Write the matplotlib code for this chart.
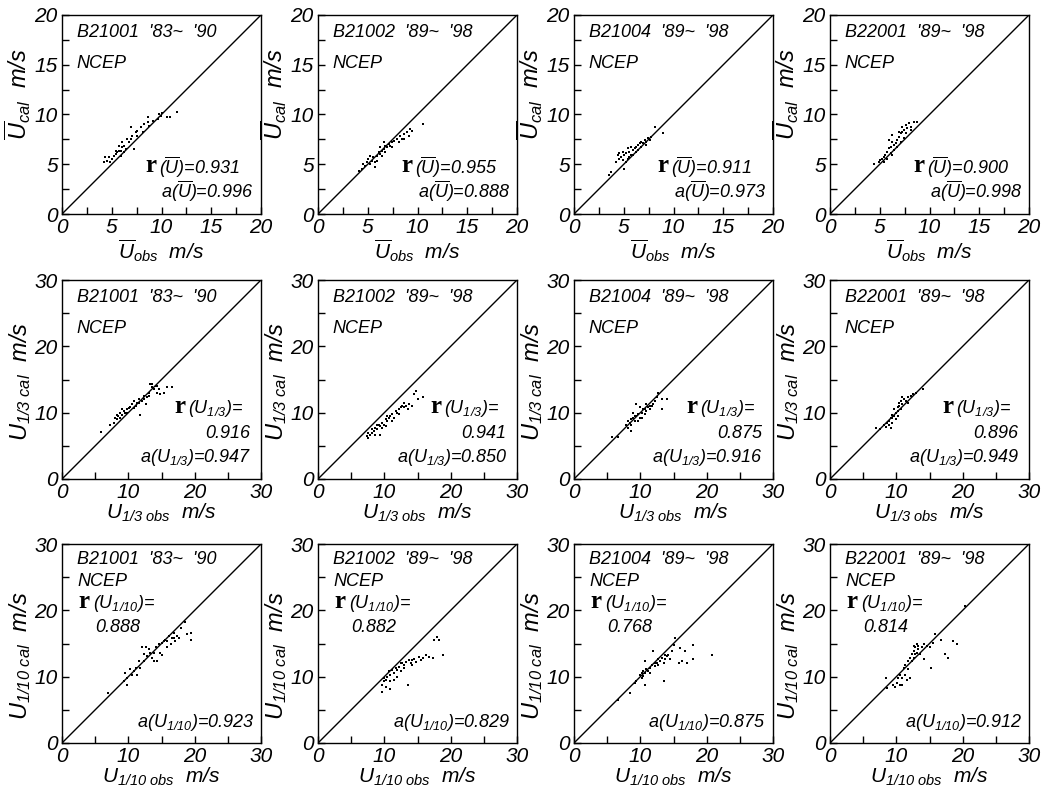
import matplotlib
matplotlib.use("Agg")
import matplotlib.pyplot as plt
from matplotlib.ticker import MultipleLocator

plt.rcParams['font.family'] = ['Liberation Sans', 'DejaVu Sans']
plt.rcParams['mathtext.fontset'] = 'custom'
plt.rcParams['mathtext.it'] = 'Liberation Sans:italic'
plt.rcParams['mathtext.rm'] = 'Liberation Sans:italic'
plt.rcParams['mathtext.sf'] = 'Liberation Sans:italic'

# station info
stations = ["B21001", "B21002", "B21004", "B22001"]
periods = ["'83~  '90", "'89~  '98", "'89~  '98", "'89~  '98"]

r_mean = ["0.931", "0.955", "0.911", "0.900"]
a_mean = ["0.996", "0.888", "0.973", "0.998"]
r_13 = ["0.916", "0.941", "0.875", "0.896"]
a_13 = ["0.947", "0.850", "0.916", "0.949"]
r_110 = ["0.888", "0.882", "0.768", "0.814"]
a_110 = ["0.923", "0.829", "0.875", "0.912"]

# mean wind speed (obs, cal)
mean_21001_obs = [4.2, 4.3, 4.7, 5.2, 4.8, 5.5, 5.7, 5.9, 6.0, 6.2, 6.4, 6.5, 6.7, 6.9, 7.0, 7.2, 7.4, 7.5, 7.9, 8.2,
                  8.6, 8.7, 9.1, 9.6, 9.9, 10.1, 10.6, 10.9, 11.6, 5.4, 5.0, 5.9, 6.2, 6.0, 5.7, 6.9, 7.5, 8.1, 9.7,
                  8.6, 4.5, 5.4]
mean_21001_cal = [5.2, 5.7, 5.7, 5.8, 5.2, 6.2, 6.8, 6.3, 7.2, 6.8, 6.5, 7.5, 7.2, 8.7, 7.8, 6.5, 8.2, 8.3, 8.7, 9.0,
                  9.7, 8.8, 9.3, 9.5, 9.8, 10.2, 9.7, 9.7, 10.3, 6.0, 5.5, 5.8, 6.2, 6.7, 6.3, 7.5, 7.8, 8.2, 10.0,
                  9.2, 5.3, 6.3]
mean_21002_obs = [4.1, 4.4, 4.7, 4.9, 5.0, 5.2, 5.4, 5.5, 5.7, 5.9, 6.1, 6.2, 6.4, 6.6, 6.6, 6.7, 6.9, 7.1, 7.2, 7.4,
                  7.6, 7.9, 8.2, 8.4, 8.6, 8.9, 9.2, 9.4, 10.6, 4.5, 5.2, 5.7, 6.2, 6.7, 7.4, 8.1, 8.6, 9.1, 5.9, 6.4]
mean_21002_cal = [4.3, 4.5, 4.8, 5.2, 5.5, 5.0, 5.3, 5.7, 4.7, 5.8, 6.2, 6.0, 6.3, 6.5, 7.2, 6.8, 6.7, 7.0, 6.8, 7.2,
                  7.3, 7.5, 7.8, 7.5, 8.0, 8.2, 8.5, 8.3, 9.0, 5.0, 5.8, 5.2, 6.7, 6.2, 6.7, 7.2, 7.5, 7.8, 5.3, 5.8]
mean_21004_obs = [3.5, 3.7, 4.2, 4.5, 4.7, 4.9, 5.0, 5.0, 5.2, 5.4, 5.5, 5.7, 5.9, 6.1, 6.2, 6.4, 6.6, 6.7, 6.9, 7.1,
                  7.2, 7.4, 7.6, 7.7, 8.1, 8.9, 4.5, 4.9, 5.4, 5.7, 5.9, 6.4, 6.7, 7.2, 6.2, 4.4, 5.2, 5.5]
mean_21004_cal = [3.9, 4.2, 5.2, 5.5, 5.7, 5.4, 5.9, 4.5, 6.1, 5.5, 6.2, 5.9, 6.4, 6.6, 6.7, 6.9, 7.1, 7.2, 7.1, 7.4,
                  7.2, 7.6, 7.4, 7.7, 8.7, 8.1, 6.1, 6.2, 6.6, 6.7, 5.9, 6.4, 6.7, 6.9, 6.2, 5.9, 5.2, 5.7]
mean_22001_obs = [4.4, 4.9, 5.0, 5.2, 5.4, 5.4, 5.5, 5.7, 5.9, 6.1, 6.1, 6.2, 6.2, 6.4, 6.6, 6.7, 6.9, 7.1, 7.2, 7.4,
                  7.6, 7.7, 7.9, 8.1, 8.4, 8.7, 5.9, 6.4, 6.7, 7.1, 7.4, 7.6, 5.7, 6.2, 8.1, 6.9, 7.2]
mean_22001_cal = [5.0, 5.2, 5.4, 5.5, 5.7, 5.2, 5.9, 6.2, 6.6, 6.1, 6.7, 7.9, 7.2, 6.9, 7.1, 7.4, 7.7, 8.1, 8.2, 8.4,
                  8.9, 8.6, 9.1, 8.7, 9.2, 9.2, 7.4, 6.4, 6.7, 7.2, 7.6, 8.1, 5.5, 5.9, 8.4, 8.2, 8.7]

# significant wind speed U1/3 (obs, cal)
u13_21001_obs = [5.9, 7.3, 7.8, 8.0, 8.3, 8.5, 8.8, 9.0, 9.3, 9.5, 9.8, 10.1, 10.6, 10.8, 11.1, 11.3, 11.6, 11.8, 12.1,
                 12.3, 12.6, 12.8, 13.1, 13.3, 13.6, 13.8, 14.1, 14.3, 14.6, 14.8, 15.4, 15.9, 16.6, 8.3, 9.0, 10.3,
                 11.6, 12.3, 13.6, 14.3, 8.8, 9.8, 10.8, 13.1]
u13_21001_cal = [7.1, 8.2, 8.5, 9.2, 9.0, 9.5, 10.0, 9.7, 10.2, 10.0, 10.5, 10.7, 11.3, 11.8, 11.0, 11.5, 12.0, 9.7,
                 11.8, 12.5, 11.3, 12.3, 13.0, 14.3, 13.8, 13.5, 14.0, 13.0, 13.5, 12.8, 13.0, 13.8, 13.9, 9.7, 10.5,
                 10.9, 11.5, 12.0, 14.3, 14.0, 9.2, 10.0, 10.7, 12.5]
u13_21002_obs = [7.4, 7.6, 7.9, 8.1, 8.4, 8.6, 8.9, 9.2, 9.4, 9.4, 9.7, 9.9, 10.2, 10.4, 10.7, 10.9, 11.2, 11.4, 11.7,
                 11.9, 12.2, 12.5, 12.7, 13.0, 13.2, 13.7, 14.2, 14.5, 14.7, 15.0, 15.8, 8.1, 8.9, 9.7, 10.4, 11.2,
                 12.2, 13.0, 13.5, 8.6, 7.6, 10.2]
u13_21002_cal = [6.5, 7.0, 6.7, 7.5, 7.2, 7.7, 7.5, 8.2, 6.7, 8.0, 8.5, 8.2, 9.0, 8.7, 9.2, 9.5, 9.8, 9.2, 10.3, 10.0,
                 10.5, 10.8, 11.0, 10.8, 11.0, 11.3, 11.0, 12.8, 13.3, 12.0, 12.3, 7.0, 8.2, 7.7, 9.5, 8.7, 9.8, 11.5,
                 10.5, 6.7, 6.2, 8.0]
u13_21004_obs = [5.8, 6.6, 7.9, 8.1, 8.4, 8.6, 8.6, 8.9, 9.2, 9.4, 9.4, 9.7, 9.9, 10.2, 10.4, 10.7, 10.9, 11.2, 11.4,
                 11.7, 11.9, 12.2, 12.5, 12.7, 13.2, 13.2, 14.0, 8.1, 8.9, 9.7, 10.2, 10.7, 11.4, 8.6, 9.2, 9.9, 10.9]
u13_21004_cal = [6.3, 6.3, 8.2, 8.7, 8.5, 9.0, 7.2, 9.2, 8.7, 11.3, 9.5, 9.8, 9.2, 10.0, 10.5, 9.8, 10.3, 10.8, 10.5,
                 11.0, 11.3, 11.8, 12.3, 13.0, 12.0, 10.5, 12.0, 7.7, 10.0, 8.7, 9.2, 10.5, 11.0, 8.2, 9.5, 10.8, 11.3]
u13_22001_obs = [6.9, 7.6, 8.1, 8.4, 8.6, 8.9, 9.2, 9.2, 9.4, 9.4, 9.7, 9.9, 10.2, 10.2, 10.4, 10.4, 10.7, 10.9, 11.2,
                 11.4, 11.7, 12.2, 12.5, 13.0, 14.0, 9.7, 10.2, 10.7, 8.9, 9.9, 10.9, 11.7, 9.4]
u13_22001_cal = [7.7, 7.5, 8.2, 7.9, 8.5, 8.7, 9.2, 7.7, 9.7, 8.5, 9.5, 10.0, 10.8, 9.5, 11.0, 11.5, 11.8, 11.3, 12.0,
                 11.8, 12.3, 12.5, 12.8, 13.0, 13.5, 10.5, 10.3, 10.5, 8.2, 9.0, 12.3, 11.5, 9.2]

# highest 1/10 wind speed U1/10 (obs, cal)
u110_21001_obs = [6.9, 9.3, 9.5, 9.8, 10.3, 10.6, 11.1, 11.3, 11.6, 11.8, 12.1, 12.3, 12.6, 12.8, 13.3, 13.6, 13.8,
                  14.1, 14.3, 14.6, 14.8, 15.1, 15.4, 15.6, 15.9, 16.1, 16.4, 16.6, 16.9, 17.1, 17.4, 17.6, 17.9,
                  18.6, 18.9, 19.4, 19.4, 9.8, 10.8, 13.1, 15.1, 15.9, 16.9, 12.3, 13.8]
u110_21001_cal = [7.5, 9.3, 10.6, 9.8, 11.1, 10.3, 11.3, 10.3, 12.3, 11.3, 14.4, 12.3, 14.4, 13.1, 13.6, 12.8, 12.3,
                  14.4, 12.3, 14.9, 13.6, 13.3, 15.4, 15.6, 14.4, 16.1, 14.9, 15.9, 16.6, 15.4, 16.1, 15.9, 17.4,
                  18.2, 16.4, 16.6, 15.6, 8.8, 10.8, 14.1, 15.1, 15.4, 15.9, 13.4, 13.6]
u110_21002_obs = [9.7, 9.7, 9.9, 9.9, 10.2, 10.4, 10.7, 10.9, 10.9, 11.2, 11.4, 11.7, 11.9, 12.2, 12.5, 12.7, 13.0,
                  13.2, 13.5, 13.7, 14.0, 14.2, 14.5, 14.7, 15.3, 15.8, 16.3, 16.8, 17.3, 17.5, 18.0, 18.3, 18.8,
                  10.2, 11.4, 11.9, 13.0, 14.2, 15.5, 10.9, 12.5]
u110_21002_cal = [7.7, 8.7, 9.3, 9.8, 9.5, 10.0, 10.8, 9.3, 10.3, 11.0, 10.5, 11.3, 10.0, 11.5, 10.8, 12.0, 11.3,
                  12.2, 8.7, 12.5, 12.0, 11.7, 12.7, 12.2, 13.0, 12.8, 13.3, 13.0, 12.8, 15.6, 16.0, 15.6, 13.3,
                  8.5, 9.5, 11.0, 11.8, 12.5, 12.5, 8.2, 12.0]
u110_21004_obs = [6.6, 8.4, 9.2, 9.4, 9.9, 10.2, 10.2, 10.4, 10.7, 10.7, 10.7, 10.9, 11.2, 11.4, 11.7, 11.9, 12.2,
                  12.5, 12.7, 13.0, 13.2, 13.5, 13.7, 14.0, 14.2, 14.5, 14.7, 15.0, 15.3, 15.8, 16.0, 16.3, 16.8,
                  17.0, 18.0, 18.0, 20.8, 13.5, 10.4, 11.4, 12.7, 13.7, 12.2]
u110_21004_cal = [6.5, 7.5, 9.0, 9.3, 10.3, 10.6, 9.8, 10.8, 10.6, 12.3, 8.8, 11.1, 10.8, 11.3, 11.8, 13.8, 11.6,
                  12.1, 12.6, 12.3, 12.8, 12.1, 12.6, 13.1, 13.3, 12.6, 13.8, 14.8, 15.8, 12.1, 14.3, 12.3, 13.8,
                  12.1, 14.8, 12.6, 13.3, 9.3, 10.1, 10.6, 11.8, 13.3, 12.1]
u110_22001_obs = [8.6, 8.5, 9.5, 9.8, 10.1, 10.3, 10.6, 10.6, 10.8, 11.1, 11.3, 11.3, 11.6, 11.8, 11.8, 12.1, 12.1,
                  12.3, 12.6, 12.6, 12.8, 13.1, 13.1, 13.3, 13.6, 13.8, 14.1, 14.1, 14.6, 15.1, 15.3, 15.6, 15.8,
                  16.8, 17.3, 17.8, 18.6, 19.1, 20.4, 12.3, 12.8, 12.6, 13.3, 10.8]
u110_22001_cal = [8.3, 9.8, 8.8, 8.5, 9.0, 9.8, 8.8, 10.3, 9.8, 11.3, 11.8, 10.3, 9.5, 12.3, 11.1, 12.8, 9.8, 13.4,
                  12.8, 13.9, 14.4, 13.6, 14.9, 14.1, 13.4, 14.4, 14.9, 12.6, 14.6, 14.4, 11.3, 15.1, 16.4, 15.6,
                  13.4, 12.8, 15.4, 14.9, 20.7, 12.3, 13.4, 14.6, 14.6, 8.8]

rows = [
    [(mean_21001_obs, mean_21001_cal), (mean_21002_obs, mean_21002_cal),
     (mean_21004_obs, mean_21004_cal), (mean_22001_obs, mean_22001_cal)],
    [(u13_21001_obs, u13_21001_cal), (u13_21002_obs, u13_21002_cal),
     (u13_21004_obs, u13_21004_cal), (u13_22001_obs, u13_22001_cal)],
    [(u110_21001_obs, u110_21001_cal), (u110_21002_obs, u110_21002_cal),
     (u110_21004_obs, u110_21004_cal), (u110_22001_obs, u110_22001_cal)],
]
limits = [20, 30, 30]
xlabels = [r'$\overline{U}_{obs}$  m/s', r'$U_{1/3\ obs}$  m/s', r'$U_{1/10\ obs}$  m/s']
ylabels = [r'$\overline{U}_{cal}$  m/s', r'$U_{1/3\ cal}$  m/s', r'$U_{1/10\ cal}$  m/s']
ylabel_y = [0.6, 0.49, 0.44]
syms = [r'$(\overline{U})$', r'$(U_{1/3})$', r'$(U_{1/10})$']

W, H = 1045, 794
fig = plt.figure(figsize=(W / 100, H / 100), dpi=100)
col_left = [62, 318, 574, 830]
row_top = [15, 280, 544]
aw, ah = 199, 199

for i in range(3):
    lim = limits[i]
    for j in range(4):
        ax = fig.add_axes([col_left[j] / W, (H - row_top[i] - ah) / H, aw / W, ah / H])
        obs, cal = rows[i][j]
        ax.plot([0, lim], [0, lim], color='black', lw=1)
        ax.scatter(obs, cal, marker='s', s=4, color='black', linewidths=0)
        ax.set_xlim(0, lim)
        ax.set_ylim(0, lim)
        if lim == 20:
            ax.xaxis.set_major_locator(MultipleLocator(5))
            ax.yaxis.set_major_locator(MultipleLocator(5))
            ax.xaxis.set_minor_locator(MultipleLocator(2.5))
            ax.yaxis.set_minor_locator(MultipleLocator(2.5))
        else:
            ax.xaxis.set_major_locator(MultipleLocator(10))
            ax.yaxis.set_major_locator(MultipleLocator(10))
            ax.xaxis.set_minor_locator(MultipleLocator(5))
            ax.yaxis.set_minor_locator(MultipleLocator(5))
        ax.tick_params(which='both', direction='in', length=5, width=1, top=False, right=False)
        ax.tick_params(which='major', labelsize=15, pad=3)
        for lab in ax.get_xticklabels() + ax.get_yticklabels():
            lab.set_fontstyle('italic')
        for s in ax.spines.values():
            s.set_linewidth(1)
        ax.set_xlabel(xlabels[i], fontsize=15, fontstyle='italic', labelpad=0)
        ax.set_ylabel(ylabels[i], fontsize=17, fontstyle='italic', labelpad=1)
        ax.yaxis.label.set_y(ylabel_y[i])

        txt = dict(transform=ax.transAxes, fontstyle='italic', fontsize=13, va='center')
        if i == 2:
            ax.text(0.075, 0.92, f"{stations[j]}  {periods[j]}", ha='left', **txt)
            ax.text(0.08, 0.81, "NCEP", ha='left', **txt)
        else:
            ax.text(0.075, 0.91, f"{stations[j]}  {periods[j]}", ha='left', **txt)
            ax.text(0.075, 0.755, "NCEP", ha='left', **txt)

        rtxt = dict(transform=ax.transAxes, family='Liberation Serif', fontweight='bold',
                    fontsize=18, va='center', ha='left')
        if i == 0:
            ax.text(0.42, 0.245, "r", **rtxt)
            ax.text(0.485, 0.235, f"{syms[0]}={r_mean[j]}", ha='left', **txt)
            ax.text(0.965, 0.115, f"a{syms[0]}={a_mean[j]}", ha='right', **txt)
        elif i == 1:
            ax.text(0.565, 0.365, "r", **rtxt)
            ax.text(0.635, 0.355, f"{syms[1]}=", ha='left', **txt)
            ax.text(0.945, 0.23, r_13[j], ha='right', **txt)
            ax.text(0.95, 0.11, f"a{syms[1]}={a_13[j]}", ha='right', **txt)
        else:
            ax.text(0.08, 0.71, "r", **rtxt)
            ax.text(0.155, 0.70, f"{syms[2]}=", ha='left', **txt)
            ax.text(0.165, 0.58, r_110[j], ha='left', **txt)
            ax.text(0.965, 0.105, f"a{syms[2]}={a_110[j]}", ha='right', **txt)

fig.savefig("out.png", dpi=100)
